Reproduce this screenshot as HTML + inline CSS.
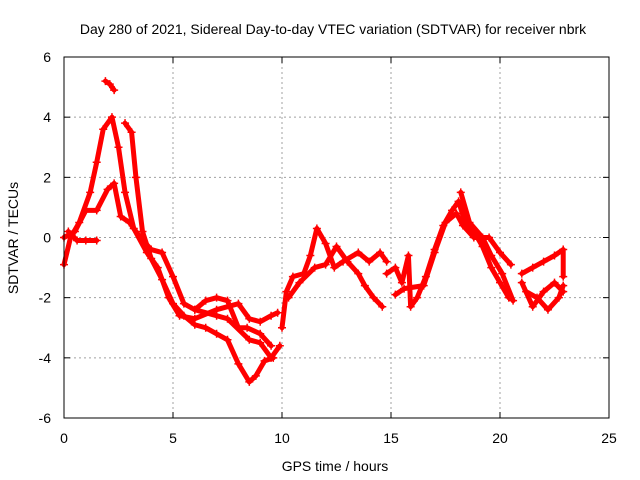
<!DOCTYPE html>
<html><head><meta charset="utf-8"><style>
body{margin:0;background:#fff}
svg{display:block;font-family:"Liberation Sans",sans-serif}
</style></head><body>
<svg id="chart" width="640" height="480">
<text x="333" y="34" font-size="14" text-anchor="middle">Day 280 of 2021, Sidereal Day-to-day VTEC variation (SDTVAR) for receiver nbrk</text>
<text x="335" y="471" font-size="14" text-anchor="middle">GPS time / hours</text>
<text x="18" y="238" font-size="14" text-anchor="middle" transform="rotate(-90 18 238)">SDTVAR / TECUs</text>
<g id="grid"></g>
<g id="axes"></g>
<g id="series"></g>
<rect x="64" y="57" width="545" height="361" fill="none" stroke="#000"/>
</svg>
<script>
const xTicks=[0,5,10,15,20,25];
const yTicks=[-6,-4,-2,0,2,4,6];
const trackA=[[0,-0.9],[0.3,0],[0.7,0.5],[1.2,1.5],[1.5,2.5],[1.8,3.6],[2.2,4.0],[2.5,3.0],[2.8,1.5],[3.2,0.3],[3.8,-0.5],[4.3,-1.0],[4.8,-2.0],[5.3,-2.6],[6,-2.7],[7,-2.4],[8,-2.2],[8.5,-2.7],[9,-2.8],[9.5,-2.6],[9.8,-2.5]];
const trackB=[[0,0],[0.5,0.2],[1,0.9],[1.5,0.9],[2,1.6],[2.3,1.8],[2.6,0.7],[3,0.5],[3.5,0],[4,-0.4],[4.5,-0.5],[5,-1.3],[5.5,-2.2],[6,-2.4],[7,-2.6],[7.5,-2.7],[8.5,-3.4],[9,-3.5],[9.5,-4.0],[9.9,-3.6]];
const trackC=[[0.2,0.2],[0.6,-0.1],[1,-0.1],[1.5,-0.1]];
const trackD=[[1.9,5.2],[2.1,5.1],[2.3,4.9]];
const trackE=[[2.8,3.8],[3.1,3.5],[3.3,2.0],[3.6,0.2],[4,-0.7],[4.5,-1.4],[5,-2.2],[5.5,-2.6],[6,-2.9],[6.5,-3.0],[7,-3.2],[7.5,-3.4],[8,-4.2],[8.5,-4.8],[8.8,-4.6],[9.2,-4.1],[9.6,-4.0]];
const trackF=[[6,-2.4],[6.5,-2.1],[7,-2.0],[7.5,-2.1],[8,-3.0],[8.4,-3.0],[9,-3.2],[9.5,-3.6]];
const trackG=[[10,-3],[10.2,-1.8],[10.5,-1.3],[11,-1.2],[11.3,-0.6],[11.6,0.3],[12,-0.2],[12.4,-1.0],[12.8,-0.8],[13.5,-0.5],[14,-0.8],[14.5,-0.5],[14.8,-0.8]];
const trackH=[[10.3,-2.0],[10.8,-1.5],[11.5,-1.0],[12,-0.9],[12.5,-0.3],[13,-0.8],[13.5,-1.2],[13.8,-1.6],[14.2,-2.0],[14.6,-2.3]];
const trackI=[[14.8,-1.2],[15.2,-1.0],[15.5,-1.5],[15.8,-0.6],[15.9,-2.3],[16.2,-2.0],[16.6,-1.3],[17,-0.4],[17.4,0.4],[17.8,0.9],[18.1,1.2],[18.4,0.5],[18.8,0.2],[19.2,-0.3],[19.6,-1.0],[20,-1.5],[20.4,-2.0]];
const trackJ=[[15.2,-1.9],[15.6,-1.7],[16.5,-1.6],[17,-0.5],[17.5,0.5],[18,0.8],[18.3,0.4],[18.8,0],[19.5,0.0],[20,-0.5],[20.5,-0.9]];
const trackK=[[18.2,1.5],[18.6,0.5],[19.2,0],[19.6,-0.6],[20.1,-1.2],[20.6,-2.1]];
const trackL=[[21,-1.5],[21.5,-2.3],[22,-1.8],[22.5,-1.5],[22.9,-1.8]];
const trackM=[[21,-1.2],[21.5,-1.0],[22,-0.8],[22.5,-0.6],[22.9,-0.4],[22.9,-1.3]];
const trackN=[[21.2,-1.8],[21.7,-2.0],[22.2,-2.4],[22.7,-2.0],[22.9,-1.6]];
const tracks=[trackA,trackB,trackC,trackD,trackE,trackF,trackG,trackH,trackI,trackJ,trackK,trackL,trackM,trackN];

const X0=64,X1=609,Y0=418,Y1=57;
const sx=v=>X0+(v-0)/(25-0)*(X1-X0);
const sy=v=>Y0-(v+6)/12*(Y0-Y1);
const NS="http://www.w3.org/2000/svg";
function mk(t,a,p){const e=document.createElementNS(NS,t);for(const k in a)e.setAttribute(k,a[k]);p.appendChild(e);return e;}
const grid=document.getElementById('grid'),axes=document.getElementById('axes'),ser=document.getElementById('series');
xTicks.forEach(t=>{const x=sx(t);
 if(t>0&&t<25){const g=mk('line',{x1:x,x2:x,y1:Y1,y2:Y0,stroke:'#a0a0a0','stroke-dasharray':'2,3'},grid);
  
  }
 mk('line',{x1:x,x2:x,y1:Y0,y2:Y0-6,stroke:'#000'},axes);
 mk('line',{x1:x,x2:x,y1:Y1,y2:Y1+6,stroke:'#000'},axes);
 const l=mk('text',{x:x,y:Y0+25,'font-size':14,'text-anchor':'middle'},axes);l.textContent=t;
 
 
});
yTicks.forEach(t=>{const y=sy(t);
 if(t>-6&&t<6){const g=mk('line',{x1:X0,x2:X1,y1:y,y2:y,stroke:'#a0a0a0','stroke-dasharray':'2,3'},grid);
  
  }
 mk('line',{x1:X0,x2:X0+6,y1:y,y2:y,stroke:'#000'},axes);
 mk('line',{x1:X1,x2:X1-6,y1:y,y2:y,stroke:'#000'},axes);
 const l=mk('text',{x:X0-13,y:y+5,'font-size':14,'text-anchor':'end'},axes);l.textContent=t;
 
 
});
tracks.forEach(tr=>{
 const pl=mk('polyline',{points:tr.map(p=>sx(p[0])+','+sy(p[1])).join(' '),fill:'none',stroke:'#f00','stroke-width':5,'stroke-linejoin':'round','stroke-linecap':'round'},ser);
 
 
 tr.forEach(p=>{const x=sx(p[0]),y=sy(p[1]);
  const m=mk('path',{d:`M${x-4},${y}H${x+4}M${x},${y-4}V${y+4}`,stroke:'#f00','stroke-width':1.5},ser);
  
  
 });
});
</script>
</body></html>
